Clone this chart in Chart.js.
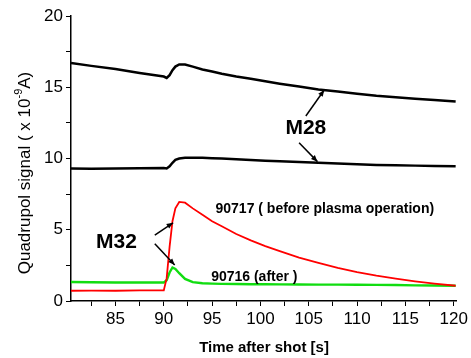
<!DOCTYPE html>
<html>
<head>
<meta charset="utf-8">
<script src="https://cdn.jsdelivr.net/npm/chart.js@4"></script>
<style>
  html, body { margin: 0; padding: 0; background: #fff; }
  canvas { display: block; }
</style>
</head>
<body>
<canvas id="quadChart" width="471" height="358"></canvas>
<script>
// time after shot [s]
const times = [80.4, 82.5, 85, 87.5, 90, 90.3, 90.6, 90.9, 91.2, 91.6, 92.2, 93, 94, 95, 96, 97.5,
    99, 100.5, 102, 104, 106, 108, 110, 112, 114, 116, 118, 120.2];

// M28, upper trace
const m28Upper = [16.7, 16.5, 16.28, 16.0, 15.75, 15.65, 15.85, 16.2, 16.45, 16.6, 16.6, 16.45, 16.25, 16.1, 15.95, 15.75,
    15.6, 15.42, 15.25, 15.05, 14.85, 14.7, 14.55, 14.4, 14.3, 14.2, 14.1, 14.0];
// M28, lower trace
const m28Lower = [9.3, 9.28, 9.3, 9.32, 9.33, 9.3, 9.45, 9.7, 9.9, 10.0, 10.05, 10.05, 10.05, 10.02, 10.0, 9.95,
    9.9, 9.85, 9.8, 9.75, 9.7, 9.65, 9.6, 9.55, 9.52, 9.5, 9.47, 9.45];
// M32, shot 90717 (before plasma operation)
const m32Before = [0.72, 0.73, 0.72, 0.74, 0.74, 1.6, 3.8, 5.6, 6.5, 6.95, 6.9, 6.5, 6.05, 5.6, 5.25, 4.7,
    4.25, 3.85, 3.5, 3.05, 2.68, 2.33, 2.03, 1.78, 1.57, 1.38, 1.22, 1.07];
// M32, shot 90716 (after)
const m32After = [1.33, 1.32, 1.3, 1.3, 1.3, 1.45, 2.0, 2.35, 2.25, 1.95, 1.55, 1.32, 1.25, 1.22, 1.2, 1.19,
    1.18, 1.18, 1.17, 1.16, 1.15, 1.15, 1.14, 1.13, 1.12, 1.1, 1.09, 1.07];

const xTicks = [82.5, 85, 87.5, 90, 92.5, 95, 97.5, 100, 102.5, 105, 107.5, 110, 112.5, 115, 117.5, 120];
const xLabels = [85, 90, 95, 100, 105, 110, 115, 120];
const yTicks = [0, 2.5, 5, 7.5, 10, 12.5, 15, 17.5, 20];
const yLabels = [0, 5, 10, 15, 20];

const FONT = "'Liberation Sans', Arial, sans-serif";

function toPoints(vals) {
    return times.map((t, i) => ({ x: t, y: vals[i] }));
}

// text + arrows, placed in data units
const notes = [
    { text: 'M28', x: 104.7, y: 12.14, size: 21, align: 'center' },
    { text: 'M32', x: 85.1, y: 4.16, size: 21, align: 'center' },
    { text: '90717 ( before plasma operation)', x: 95.35, y: 6.46, size: 14, align: 'left' },
    { text: '90716 (after )', x: 94.9, y: 1.7, size: 14, align: 'left' }
];
const arrows = [
    [104.7, 12.98, 106.6, 14.81],
    [104.0, 11.1, 105.9, 9.78],
    [89.07, 4.63, 90.96, 5.49],
    [89.07, 4.02, 91.13, 2.53]
];

const extras = {
    id: 'extras',
    afterDatasetsDraw(chart) {
        const c = chart.ctx;
        const xs = chart.scales.x, ys = chart.scales.y;
        c.save();
        c.fillStyle = '#000';
        c.strokeStyle = '#000';
        c.textBaseline = 'middle';
        notes.forEach(n => {
            c.font = 'bold ' + n.size + 'px ' + FONT;
            c.textAlign = n.align;
            c.fillText(n.text, xs.getPixelForValue(n.x), ys.getPixelForValue(n.y));
        });
        c.lineWidth = 1.5;
        arrows.forEach(a => {
            const x1 = xs.getPixelForValue(a[0]), y1 = ys.getPixelForValue(a[1]);
            const x2 = xs.getPixelForValue(a[2]), y2 = ys.getPixelForValue(a[3]);
            const ang = Math.atan2(y2 - y1, x2 - x1);
            c.beginPath();
            c.moveTo(x1, y1);
            c.lineTo(x2, y2);
            c.stroke();
            c.beginPath();
            c.moveTo(x2, y2);
            c.lineTo(x2 - 7 * Math.cos(ang - 0.4), y2 - 7 * Math.sin(ang - 0.4));
            c.lineTo(x2 - 7 * Math.cos(ang + 0.4), y2 - 7 * Math.sin(ang + 0.4));
            c.closePath();
            c.fill();
        });

        // axis titles
        c.textAlign = 'center';
        c.font = 'bold 15px ' + FONT;
        c.fillText('Time after shot [s]', 264, 348);

        // y title with superscript
        const big = '17px ' + FONT, small = '11px ' + FONT;
        const parts = [['Quadrupol signal ( x 10', big, 0], ['-9', small, -6], ['A)', big, 0]];
        let total = 0;
        parts.forEach(p => { c.font = p[1]; total += c.measureText(p[0]).width; });
        c.translate(25, 173);
        c.rotate(-Math.PI / 2);
        c.textAlign = 'left';
        let px = -total / 2;
        parts.forEach(p => {
            c.font = p[1];
            c.fillText(p[0], px, p[2]);
            px += c.measureText(p[0]).width;
        });
        c.restore();
    }
};

const ctx = document.getElementById('quadChart');

new Chart(ctx, {
    type: 'line',
    data: {
        datasets: [
            { label: 'M28', data: toPoints(m28Upper), borderColor: '#000', borderWidth: 2.5 },
            { label: 'M28', data: toPoints(m28Lower), borderColor: '#000', borderWidth: 2.5 },
            { label: '90717', data: toPoints(m32Before), borderColor: '#ff0000', borderWidth: 1.8 },
            { label: '90716', data: toPoints(m32After), borderColor: '#11dd11', borderWidth: 2.4 }
        ]
    },
    options: {
        responsive: false,
        animation: false,
        layout: { padding: { top: 16, right: 13, left: 0, bottom: 0 } },
        elements: { point: { radius: 0 }, line: { tension: 0 } },
        plugins: { legend: { display: false }, tooltip: { enabled: false } },
        scales: {
            x: {
                type: 'linear',
                min: 80.4,
                max: 120.3,
                afterBuildTicks: s => { s.ticks = xTicks.map(v => ({ value: v })); },
                afterFit: s => { s.height = 57; },
                ticks: {
                    color: '#000',
                    font: { size: 17, family: FONT },
                    padding: 3,
                    maxRotation: 0,
                    autoSkip: false,
                    callback: v => xLabels.includes(v) ? String(v) : ''
                },
                grid: { drawOnChartArea: false, tickLength: 5, color: '#000' },
                border: { color: '#000', width: 1.5 }
            },
            y: {
                min: 0,
                max: 20,
                afterBuildTicks: s => { s.ticks = yTicks.map(v => ({ value: v })); },
                afterFit: s => { s.width = 71; },
                ticks: {
                    color: '#000',
                    font: { size: 17, family: FONT },
                    padding: 3,
                    autoSkip: false,
                    callback: v => yLabels.includes(v) ? String(v) : ''
                },
                grid: { drawOnChartArea: false, tickLength: 5, color: '#000' },
                border: { color: '#000', width: 1.5 }
            }
        }
    },
    plugins: [extras]
});
</script>
</body>
</html>
